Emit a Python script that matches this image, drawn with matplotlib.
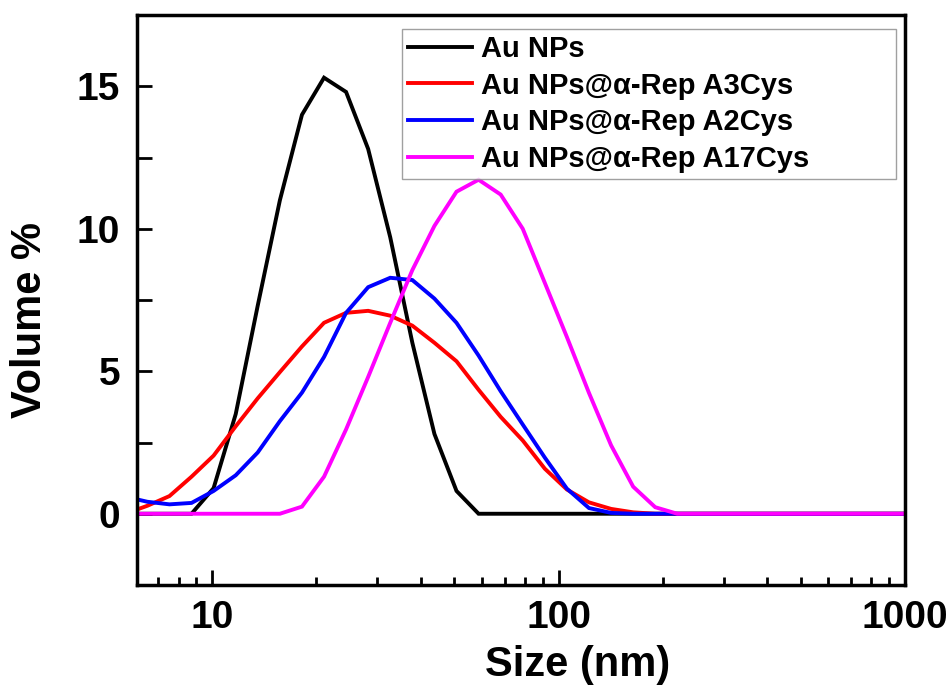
import matplotlib
matplotlib.use("Agg")
import matplotlib.pyplot as plt
from matplotlib.ticker import FixedLocator, NullFormatter, LogLocator

plt.rcParams['font.family'] = ['Liberation Sans', 'DejaVu Sans']
plt.rcParams['font.weight'] = 'bold'

# DLS size bins (nm)
sizes = [5.615, 6.503, 7.531, 8.721, 10.10, 11.70, 13.54, 15.69, 18.17, 21.04,
         24.36, 28.21, 32.67, 37.84, 43.82, 50.75, 58.77, 68.06, 78.82, 91.28,
         105.7, 122.4, 141.8, 164.2, 190.1, 220.2, 255.0, 295.3, 342.0, 396.1,
         458.7, 531.2, 615.1, 712.4, 825.0, 955.4, 1106.0]

au_nps = [0, 0, 0, 0, 0.9, 3.5, 7.3, 11.0, 14.0, 15.3,
          14.8, 12.8, 9.7, 6.0, 2.8, 0.8, 0, 0, 0, 0,
          0, 0, 0, 0, 0, 0, 0, 0, 0, 0,
          0, 0, 0, 0, 0, 0, 0]

a3cys = [0, 0.28, 0.62, 1.3, 2.04, 3.07, 4.05, 4.97, 5.87, 6.7,
         7.05, 7.12, 6.95, 6.6, 6.0, 5.35, 4.35, 3.4, 2.57, 1.58,
         0.85, 0.4, 0.17, 0.05, 0, 0, 0, 0, 0, 0,
         0, 0, 0, 0, 0, 0, 0]

a2cys = [0.6, 0.42, 0.33, 0.38, 0.8, 1.35, 2.15, 3.25, 4.25, 5.5,
         7.05, 7.95, 8.28, 8.2, 7.55, 6.7, 5.55, 4.3, 3.13, 1.97,
         0.88, 0.2, 0.03, 0, 0, 0, 0, 0, 0, 0,
         0, 0, 0, 0, 0, 0, 0]

a17cys = [0, 0, 0, 0, 0, 0, 0, 0, 0.25, 1.3,
          2.96, 4.8, 6.7, 8.55, 10.1, 11.3, 11.72, 11.2, 10.0, 8.1,
          6.2, 4.24, 2.4, 0.95, 0.23, 0, 0, 0, 0, 0,
          0, 0, 0, 0, 0, 0, 0]

labels = ["Au NPs", "Au NPs@\u03b1-Rep A3Cys", "Au NPs@\u03b1-Rep A2Cys",
          "Au NPs@\u03b1-Rep A17Cys"]
colors = ["#000000", "#ff0000", "#0000ff", "#ff00ff"]
series = [au_nps, a3cys, a2cys, a17cys]

y_major = [0, 5, 10, 15]
y_minor = [2.5, 7.5, 12.5]
x_ticks = [10, 100, 1000]
x_ticklabels = ["10", "100", "1000"]

fig = plt.figure(figsize=(9.53, 6.89), dpi=100)
ax = fig.add_axes([137/953, 1-585/689, (905-137)/953, (585-15)/689])

for ys, c, lab in zip(series, colors, labels):
    ax.plot(sizes, ys, color=c, lw=2.8, label=lab, solid_joinstyle='miter')

ax.set_xscale('log')
ax.set_xlim(6.07, 1000)
ax.set_ylim(-2.5, 17.5)

ax.set_xticks(x_ticks)
ax.set_xticklabels(x_ticklabels)
ax.xaxis.set_minor_locator(LogLocator(base=10, subs=range(2, 10)))
ax.xaxis.set_minor_formatter(NullFormatter())
ax.set_yticks(y_major)
ax.yaxis.set_minor_locator(FixedLocator(y_minor))

ax.tick_params(axis='both', which='major', direction='in', length=11, width=2,
               labelsize=28, top=False, right=False)
ax.tick_params(axis='both', which='minor', direction='in', length=6, width=2,
               top=False, right=False)
ax.tick_params(axis='y', which='minor', length=11)
ax.tick_params(axis='x', which='major', pad=11)
ax.tick_params(axis='y', which='major', pad=12)

for lab in ax.get_xticklabels() + ax.get_yticklabels():
    lab.set_fontweight('bold')

for sp in ax.spines.values():
    sp.set_linewidth(2.5)

ax.set_xlabel("Size (nm)", fontsize=30, fontweight='bold')
ax.set_ylabel("Volume %", fontsize=30, fontweight='bold')
ax.xaxis.set_label_coords((578-137)/768, -0.105)
ax.yaxis.set_label_coords((50-137)/768, 0.465)

x0 = (402-137)/768
w = (896-402)/768
ytop = 1-(29-15)/570
leg = ax.legend(loc='upper left', bbox_to_anchor=(x0, ytop-0.3, w, 0.3),
                mode='expand', fontsize=21, frameon=True, fancybox=False,
                edgecolor='#888888', handlelength=2.2, handletextpad=0.3,
                labelspacing=0.3, borderpad=0.2, borderaxespad=0)
leg.get_frame().set_linewidth(1.0)
for t in leg.get_texts():
    t.set_fontweight('bold')

fig.savefig("out.png", dpi=100)
